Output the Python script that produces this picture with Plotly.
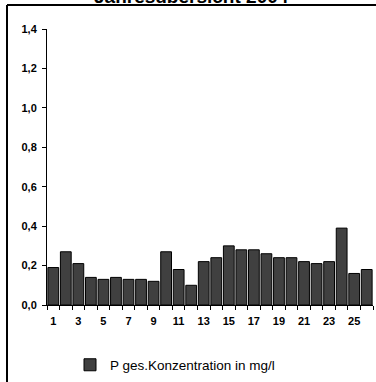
import plotly.graph_objects as go

categories = list(range(1, 27))
values = [0.19, 0.27, 0.21, 0.14, 0.13, 0.14, 0.13, 0.13, 0.12, 0.27,
          0.18, 0.10, 0.22, 0.24, 0.30, 0.28, 0.28, 0.26, 0.24, 0.24,
          0.22, 0.21, 0.22, 0.39, 0.16, 0.18]
x_tick_labels = [str(c) for c in categories if c % 2 == 1]
y_ticks = [0.0, 0.2, 0.4, 0.6, 0.8, 1.0, 1.2, 1.4]
series_name = "P ges.Konzentration in mg/l"
title_text = "Jahresübersicht 2004"

FONT = "Liberation Sans, Arial, sans-serif"

fig = go.Figure()
fig.add_trace(go.Bar(
    x=categories, y=values, name=series_name,
    marker=dict(color="#404040", line=dict(color="#000000", width=1)),
    showlegend=True,
))

fig.update_layout(
    width=376, height=382,
    margin=dict(l=47, r=3, t=29, b=77, autoexpand=False),
    paper_bgcolor="white", plot_bgcolor="white",
    separators=",.",
    bargap=0.14,
    font=dict(family=FONT, color="black"),
    showlegend=True,
    legend=dict(orientation="h", x=(70 - 47) / 326, y=(305 - 365) / 276,
                xanchor="left", yanchor="middle",
                font=dict(family=FONT, size=13.5, color="black"),
                bgcolor="rgba(0,0,0,0)", itemwidth=30),
    xaxis=dict(
        range=[0.5, 26.5], showgrid=False, zeroline=False,
        showline=True, linecolor="black", linewidth=1,
        tickmode="array", tickvals=[int(t) for t in x_tick_labels], ticktext=x_tick_labels,
        ticks="", tickfont=dict(family=FONT, size=11, color="black", weight="bold"),
        minor=dict(tickmode="array", tickvals=[c - 0.5 for c in categories] + [26.5],
                   ticks="outside", ticklen=4, tickcolor="black", tickwidth=1, showgrid=False),
        ticklabelstandoff=6,
    ),
    yaxis=dict(
        range=[0, 1.4], showgrid=False, zeroline=False,
        showline=True, linecolor="black", linewidth=1,
        tickmode="array", tickvals=y_ticks, tickformat=".1f",
        ticks="outside", ticklen=4, tickcolor="black",
        tickfont=dict(family=FONT, size=11, color="black", weight="bold"),
        ticklabelstandoff=3,
    ),
)

# outer frame (top and left borders)
fig.add_shape(type="line", xref="paper", yref="paper",
              x0=(7 - 47) / 326, x1=1.02, y0=(305 - 5) / 276, y1=(305 - 5) / 276,
              line=dict(color="black", width=2))
fig.add_shape(type="line", xref="paper", yref="paper",
              x0=(7 - 47) / 326, x1=(7 - 47) / 326, y0=(305 - 5) / 276, y1=-0.3,
              line=dict(color="black", width=2))

fig.add_annotation(text="<b>" + title_text + "</b>", xref="paper", yref="paper",
                   x=(191 - 47) / 326, y=(305 - 9) / 276, xanchor="center", yanchor="bottom",
                   showarrow=False, font=dict(family=FONT, size=19, color="black"))

fig.write_html("out.html", config={"displayModeBar": False},
               post_script="document.body.style.margin='0';document.body.style.overflow='hidden';")
